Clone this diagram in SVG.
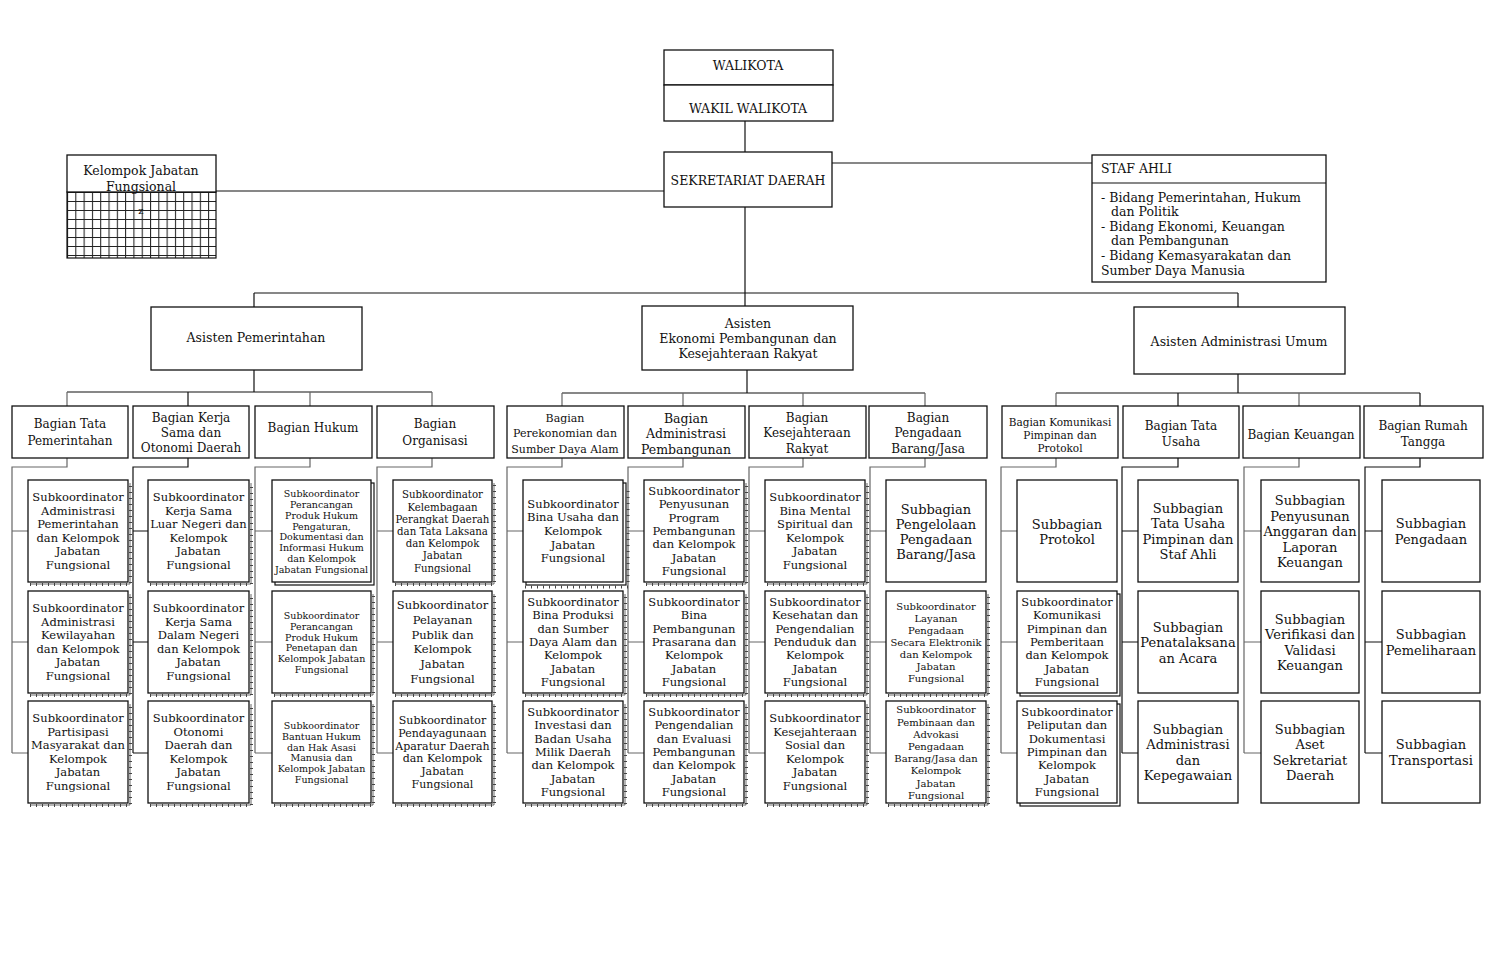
<svg xmlns="http://www.w3.org/2000/svg" width="1495" height="974" viewBox="0 0 1495 974">
<defs>
<pattern id="grid" patternUnits="userSpaceOnUse" x="67" y="192" width="8.3" height="9">
<path d="M0.5 0 V9 M0 0.5 H8.3" stroke="#222" stroke-width="1.1" fill="none"/>
</pattern>
</defs>
<style>
.b{fill:#fff;stroke:#111;stroke-width:1.3}
.sd{fill:#fff;stroke:#111;stroke-width:1.2}
.t{font-family:"DejaVu Serif","Liberation Serif",serif;fill:#111;text-anchor:middle;dominant-baseline:central}
.l{font-family:"DejaVu Serif","Liberation Serif",serif;fill:#111;text-anchor:start;dominant-baseline:central;font-size:12.5px}
.f95{font-size:9.5px}.f10{font-size:10px}.f102{font-size:10.2px}.f105{font-size:10.5px}.f11{font-size:11px}.f115{font-size:11.5px}.f12{font-size:12px}.f125{font-size:12.5px}.f13{font-size:13px}
.ln{stroke:#111;stroke-width:1.2;fill:none}
.lg{stroke:#666;stroke-width:1.2;fill:none}
.tk{stroke:#444;stroke-width:3;stroke-dasharray:1 5;fill:none}
.sh{stroke:#444;stroke-width:0.8;fill:none}
</style>
<rect width="1495" height="974" fill="#fff"/>

<g id="connectors">
<path class="ln" d="M745 121 V152"/>
<path class="ln" d="M832 163 H1092"/>
<path class="ln" d="M216 191 H664"/>
<path class="ln" d="M745 207 V293 M254 293 H1238 M254 293 V307 M745 293 V306 M1238 293 V307"/>
<path class="ln" d="M254 370 V392 M67 392 H432 M1238 374 V393 M1056 393 H1420 M747 370 V393 M562 393 H925"/>
<path class="lg" d="M67 392 V406 M310 392 V406 M432 392 V406 M562 393 V406 M683 393 V406 M803 393 V406 M925 393 V406 M1056 393 V406 M1299 393 V406"/>
<path class="ln" d="M188 392 V406 M1178 393 V406 M1420 393 V406"/>
<path class="lg" d="M67 458 V467 H12 V753 M12 531 H28 M12 642 H28 M12 753 H28"/>
<path class="ln" d="M188 458 V467 H133 V753 M133 531 H148 M133 642 H148 M133 753 H148"/>
<path class="lg" d="M310 458 V467 H255 V753 M255 531 H272 M255 642 H272 M255 753 H272"/>
<path class="lg" d="M432 458 V467 H377 V753 M377 531 H393 M377 642 H393 M377 753 H393"/>
<path class="lg" d="M562 458 V467 H507 V753 M507 531 H523 M507 642 H523 M507 753 H523"/>
<path class="lg" d="M683 458 V467 H628 V753 M628 531 H644 M628 642 H644 M628 753 H644"/>
<path class="lg" d="M803 458 V467 H749 V753 M749 531 H765 M749 642 H765 M749 753 H765"/>
<path class="lg" d="M925 458 V467 H870 V753 M870 531 H886 M870 642 H886 M870 753 H886"/>
<path class="lg" d="M1056 458 V467 H1001 V753 M1001 531 H1017 M1001 642 H1017 M1001 753 H1017"/>
<path class="ln" d="M1178 458 V467 H1122 V753 M1122 531 H1138 M1122 642 H1138 M1122 753 H1138"/>
<path class="lg" d="M1299 458 V467 H1244 V753 M1244 531 H1261 M1244 642 H1261 M1244 753 H1261"/>
<path class="ln" d="M1420 458 V467 H1365 V753 M1365 531 H1382 M1365 642 H1382 M1365 753 H1382"/>
</g>

<g id="walikota">
<rect class="b" x="664" y="50" width="169" height="35"/>
<text class="t f125" x="748" y="65">WALIKOTA</text>
</g>
<g id="wakil">
<rect class="b" x="664" y="85" width="169" height="36"/>
<text class="t f125" x="748" y="108">WAKIL WALIKOTA</text>
</g>
<g id="sekda">
<rect class="b" x="664" y="152" width="168" height="55"/>
<text class="t f125" x="748" y="180">SEKRETARIAT DAERAH</text>
</g>
<g id="kelompok">
<rect x="67" y="192" width="149" height="66" fill="url(#grid)" stroke="#111" stroke-width="1.2"/>
<rect class="b" x="67" y="155" width="149" height="37"/>
<text class="t f125"><tspan x="141" y="170">Kelompok Jabatan</tspan><tspan x="141" y="186">Fungsional</tspan></text>
<text class="t f10" x="141" y="210">z</text>
</g>
<g id="stafahli">
<rect class="b" x="1092" y="155" width="234" height="127"/>
<path class="ln" d="M1092 183 H1326"/>
<text class="l" x="1101" y="168">STAF AHLI</text>
<text class="l"><tspan x="1101" y="197">- Bidang Pemerintahan, Hukum</tspan><tspan x="1111" y="211">dan Politik</tspan><tspan x="1101" y="226">- Bidang Ekonomi, Keuangan</tspan><tspan x="1111" y="240">dan Pembangunan</tspan><tspan x="1101" y="255">- Bidang Kemasyarakatan dan</tspan><tspan x="1101" y="270">Sumber Daya Manusia</tspan></text>
</g>

<g id="asisten-pemerintahan">
<rect class="b" x="151" y="307" width="211" height="63"/>
<text class="t f125" x="256" y="337">Asisten Pemerintahan</text>
</g>
<g id="asisten-ekonomi">
<rect class="b" x="642" y="306" width="211" height="64"/>
<text class="t f125"><tspan x="748" y="323">Asisten</tspan><tspan x="748" y="338">Ekonomi Pembangunan dan</tspan><tspan x="748" y="353">Kesejahteraan Rakyat</tspan></text>
</g>
<g id="asisten-administrasi">
<rect class="b" x="1134" y="307" width="211" height="67"/>
<text class="t f125" x="1239" y="341">Asisten Administrasi Umum</text>
</g>

<g id="bag-tata-pemerintahan"><rect class="b" x="12" y="406" width="116" height="52"/><text class="t f12"><tspan x="70" y="424">Bagian Tata</tspan><tspan x="70" y="441">Pemerintahan</tspan></text></g>
<g id="bag-kerja-sama"><rect class="b" x="133" y="406" width="116" height="52"/><text class="t f12"><tspan x="191" y="418">Bagian Kerja</tspan><tspan x="191" y="433">Sama dan</tspan><tspan x="191" y="448">Otonomi Daerah</tspan></text></g>
<g id="bag-hukum"><rect class="b" x="255" y="406" width="117" height="52"/><text class="t f12" x="313" y="428">Bagian Hukum</text></g>
<g id="bag-organisasi"><rect class="b" x="377" y="406" width="117" height="52"/><text class="t f12"><tspan x="435" y="424">Bagian</tspan><tspan x="435" y="441">Organisasi</tspan></text></g>
<g id="bag-perekonomian"><rect class="b" x="507" y="406" width="117" height="52"/><text class="t f11"><tspan x="565" y="418">Bagian</tspan><tspan x="565" y="433">Perekonomian dan</tspan><tspan x="565" y="449">Sumber Daya Alam</tspan></text></g>
<g id="bag-adm-pembangunan"><rect class="b" x="628" y="406" width="117" height="52"/><text class="t f125"><tspan x="686" y="418">Bagian</tspan><tspan x="686" y="433">Administrasi</tspan><tspan x="686" y="449">Pembangunan</tspan></text></g>
<g id="bag-kesra"><rect class="b" x="749" y="406" width="117" height="52"/><text class="t f12"><tspan x="807" y="418">Bagian</tspan><tspan x="807" y="433">Kesejahteraan</tspan><tspan x="807" y="449">Rakyat</tspan></text></g>
<g id="bag-pengadaan"><rect class="b" x="869" y="406" width="118" height="52"/><text class="t f12"><tspan x="928" y="418">Bagian</tspan><tspan x="928" y="433">Pengadaan</tspan><tspan x="928" y="449">Barang/Jasa</tspan></text></g>
<g id="bag-komunikasi"><rect class="b" x="1002" y="406" width="116" height="52"/><text class="t f105"><tspan x="1060" y="422">Bagian Komunikasi</tspan><tspan x="1060" y="435">Pimpinan dan</tspan><tspan x="1060" y="448">Protokol</tspan></text></g>
<g id="bag-tata-usaha"><rect class="b" x="1123" y="406" width="116" height="52"/><text class="t f12"><tspan x="1181" y="426">Bagian Tata</tspan><tspan x="1181" y="442">Usaha</tspan></text></g>
<g id="bag-keuangan"><rect class="b" x="1243" y="406" width="117" height="52"/><text class="t f12" x="1301" y="435">Bagian Keuangan</text></g>
<g id="bag-rumah-tangga"><rect class="b" x="1364" y="406" width="119" height="52"/><text class="t f12"><tspan x="1423" y="426">Bagian Rumah</tspan><tspan x="1423" y="442">Tangga</tspan></text></g>

<g id="g1a"><path class="tk" d="M30 584.5 H130.5 V483"/><path class="sh" d="M30 584 H130 V483"/><rect class="b" x="28" y="480" width="100" height="102"/><text class="t f115"><tspan x="78" y="497">Subkoordinator</tspan><tspan x="78" y="510.6">Administrasi</tspan><tspan x="78" y="524.2">Pemerintahan</tspan><tspan x="78" y="537.8">dan Kelompok</tspan><tspan x="78" y="551.4">Jabatan</tspan><tspan x="78" y="565">Fungsional</tspan></text></g>
<g id="g1b"><path class="tk" d="M30 695.5 H130.5 V594"/><path class="sh" d="M30 695 H130 V594"/><rect class="b" x="28" y="591" width="100" height="102"/><text class="t f115"><tspan x="78" y="608">Subkoordinator</tspan><tspan x="78" y="621.6">Administrasi</tspan><tspan x="78" y="635.2">Kewilayahan</tspan><tspan x="78" y="648.8">dan Kelompok</tspan><tspan x="78" y="662.4">Jabatan</tspan><tspan x="78" y="676">Fungsional</tspan></text></g>
<g id="g1c"><path class="tk" d="M30 805.5 H130.5 V704"/><path class="sh" d="M30 805 H130 V704"/><rect class="b" x="28" y="701" width="100" height="102"/><text class="t f115"><tspan x="78" y="718">Subkoordinator</tspan><tspan x="78" y="731.6">Partisipasi</tspan><tspan x="78" y="745.2">Masyarakat dan</tspan><tspan x="78" y="758.8">Kelompok</tspan><tspan x="78" y="772.4">Jabatan</tspan><tspan x="78" y="786">Fungsional</tspan></text></g>

<g id="g2a"><path class="tk" d="M150 584.5 H251.5 V483"/><path class="sh" d="M150 584 H251 V483"/><rect class="b" x="148" y="480" width="101" height="102"/><text class="t f115"><tspan x="198.5" y="497">Subkoordinator</tspan><tspan x="198.5" y="510.6">Kerja Sama</tspan><tspan x="198.5" y="524.2">Luar Negeri dan</tspan><tspan x="198.5" y="537.8">Kelompok</tspan><tspan x="198.5" y="551.4">Jabatan</tspan><tspan x="198.5" y="565">Fungsional</tspan></text></g>
<g id="g2b"><path class="tk" d="M150 695.5 H251.5 V594"/><path class="sh" d="M150 695 H251 V594"/><rect class="b" x="148" y="591" width="101" height="102"/><text class="t f115"><tspan x="198.5" y="608">Subkoordinator</tspan><tspan x="198.5" y="621.6">Kerja Sama</tspan><tspan x="198.5" y="635.2">Dalam Negeri</tspan><tspan x="198.5" y="648.8">dan Kelompok</tspan><tspan x="198.5" y="662.4">Jabatan</tspan><tspan x="198.5" y="676">Fungsional</tspan></text></g>
<g id="g2c"><path class="tk" d="M150 805.5 H251.5 V704"/><path class="sh" d="M150 805 H251 V704"/><rect class="b" x="148" y="701" width="101" height="102"/><text class="t f115"><tspan x="198.5" y="718">Subkoordinator</tspan><tspan x="198.5" y="731.6">Otonomi</tspan><tspan x="198.5" y="745.2">Daerah dan</tspan><tspan x="198.5" y="758.8">Kelompok</tspan><tspan x="198.5" y="772.4">Jabatan</tspan><tspan x="198.5" y="786">Fungsional</tspan></text></g>

<g id="g3a"><rect class="sd" x="275" y="483" width="99" height="102"/><rect class="b" x="272" y="480" width="99" height="102"/><text class="t f95"><tspan x="321.5" y="493.2">Subkoordinator</tspan><tspan x="321.5" y="504">Perancangan</tspan><tspan x="321.5" y="514.8">Produk Hukum</tspan><tspan x="321.5" y="525.6">Pengaturan,</tspan><tspan x="321.5" y="536.4">Dokumentasi dan</tspan><tspan x="321.5" y="547.2">Informasi Hukum</tspan><tspan x="321.5" y="558">dan Kelompok</tspan><tspan x="321.5" y="568.8">Jabatan Fungsional</tspan></text></g>
<g id="g3b"><path class="tk" d="M274 695.5 H373.5 V594"/><path class="sh" d="M274 695 H373 V594"/><rect class="b" x="272" y="591" width="99" height="102"/><text class="t f95"><tspan x="321.5" y="615">Subkoordinator</tspan><tspan x="321.5" y="625.8">Perancangan</tspan><tspan x="321.5" y="636.6">Produk Hukum</tspan><tspan x="321.5" y="647.4">Penetapan dan</tspan><tspan x="321.5" y="658.2">Kelompok Jabatan</tspan><tspan x="321.5" y="669">Fungsional</tspan></text></g>
<g id="g3c"><path class="tk" d="M274 805.5 H373.5 V704"/><path class="sh" d="M274 805 H373 V704"/><rect class="b" x="272" y="701" width="99" height="102"/><text class="t f95"><tspan x="321.5" y="725">Subkoordinator</tspan><tspan x="321.5" y="735.8">Bantuan Hukum</tspan><tspan x="321.5" y="746.6">dan Hak Asasi</tspan><tspan x="321.5" y="757.4">Manusia dan</tspan><tspan x="321.5" y="768.2">Kelompok Jabatan</tspan><tspan x="321.5" y="779">Fungsional</tspan></text></g>

<g id="g4a"><path class="tk" d="M395 584.5 H494.5 V483"/><path class="sh" d="M395 584 H494 V483"/><rect class="b" x="393" y="480" width="99" height="102"/><text class="t f102"><tspan x="442.5" y="494.4">Subkoordinator</tspan><tspan x="442.5" y="506.6">Kelembagaan</tspan><tspan x="442.5" y="518.8">Perangkat Daerah</tspan><tspan x="442.5" y="531">dan Tata Laksana</tspan><tspan x="442.5" y="543.2">dan Kelompok</tspan><tspan x="442.5" y="555.4">Jabatan</tspan><tspan x="442.5" y="567.6">Fungsional</tspan></text></g>
<g id="g4b"><path class="tk" d="M395 695.5 H494.5 V594"/><path class="sh" d="M395 695 H494 V594"/><rect class="b" x="393" y="591" width="99" height="102"/><text class="t f115"><tspan x="442.5" y="605">Subkoordinator</tspan><tspan x="442.5" y="619.8">Pelayanan</tspan><tspan x="442.5" y="634.6">Publik dan</tspan><tspan x="442.5" y="649.4">Kelompok</tspan><tspan x="442.5" y="664.2">Jabatan</tspan><tspan x="442.5" y="679">Fungsional</tspan></text></g>
<g id="g4c"><path class="tk" d="M395 805.5 H494.5 V704"/><path class="sh" d="M395 805 H494 V704"/><rect class="b" x="393" y="701" width="99" height="102"/><text class="t f11"><tspan x="442.5" y="720">Subkoordinator</tspan><tspan x="442.5" y="732.8">Pendayagunaan</tspan><tspan x="442.5" y="745.6">Aparatur Daerah</tspan><tspan x="442.5" y="758.4">dan Kelompok</tspan><tspan x="442.5" y="771.2">Jabatan</tspan><tspan x="442.5" y="784">Fungsional</tspan></text></g>

<g id="g5a"><rect class="sd" x="526" y="483" width="100" height="102"/><path class="tk" d="M525 587 H628 V486"/><rect class="b" x="523" y="480" width="100" height="102"/><text class="t f115"><tspan x="573" y="503.8">Subkoordinator</tspan><tspan x="573" y="517.4">Bina Usaha dan</tspan><tspan x="573" y="531">Kelompok</tspan><tspan x="573" y="544.6">Jabatan</tspan><tspan x="573" y="558.2">Fungsional</tspan></text></g>
<g id="g5b"><path class="tk" d="M525 695.5 H625.5 V594"/><path class="sh" d="M525 695 H625 V594"/><rect class="b" x="523" y="591" width="100" height="102"/><text class="t f115"><tspan x="573" y="601.8">Subkoordinator</tspan><tspan x="573" y="615.2">Bina Produksi</tspan><tspan x="573" y="628.6">dan Sumber</tspan><tspan x="573" y="642">Daya Alam dan</tspan><tspan x="573" y="655.4">Kelompok</tspan><tspan x="573" y="668.8">Jabatan</tspan><tspan x="573" y="682.2">Fungsional</tspan></text></g>
<g id="g5c"><path class="tk" d="M525 805.5 H625.5 V704"/><path class="sh" d="M525 805 H625 V704"/><rect class="b" x="523" y="701" width="100" height="102"/><text class="t f115"><tspan x="573" y="711.8">Subkoordinator</tspan><tspan x="573" y="725.2">Investasi dan</tspan><tspan x="573" y="738.6">Badan Usaha</tspan><tspan x="573" y="752">Milik Daerah</tspan><tspan x="573" y="765.4">dan Kelompok</tspan><tspan x="573" y="778.8">Jabatan</tspan><tspan x="573" y="792.2">Fungsional</tspan></text></g>

<g id="g6a"><path class="tk" d="M646 584.5 H746.5 V483"/><path class="sh" d="M646 584 H746 V483"/><rect class="b" x="644" y="480" width="100" height="102"/><text class="t f115"><tspan x="694" y="490.8">Subkoordinator</tspan><tspan x="694" y="504.2">Penyusunan</tspan><tspan x="694" y="517.6">Program</tspan><tspan x="694" y="531">Pembangunan</tspan><tspan x="694" y="544.4">dan Kelompok</tspan><tspan x="694" y="557.8">Jabatan</tspan><tspan x="694" y="571.2">Fungsional</tspan></text></g>
<g id="g6b"><path class="tk" d="M646 695.5 H746.5 V594"/><path class="sh" d="M646 695 H746 V594"/><rect class="b" x="644" y="591" width="100" height="102"/><text class="t f115"><tspan x="694" y="601.8">Subkoordinator</tspan><tspan x="694" y="615.2">Bina</tspan><tspan x="694" y="628.6">Pembangunan</tspan><tspan x="694" y="642">Prasarana dan</tspan><tspan x="694" y="655.4">Kelompok</tspan><tspan x="694" y="668.8">Jabatan</tspan><tspan x="694" y="682.2">Fungsional</tspan></text></g>
<g id="g6c"><path class="tk" d="M646 805.5 H746.5 V704"/><path class="sh" d="M646 805 H746 V704"/><rect class="b" x="644" y="701" width="100" height="102"/><text class="t f115"><tspan x="694" y="711.8">Subkoordinator</tspan><tspan x="694" y="725.2">Pengendalian</tspan><tspan x="694" y="738.6">dan Evaluasi</tspan><tspan x="694" y="752">Pembangunan</tspan><tspan x="694" y="765.4">dan Kelompok</tspan><tspan x="694" y="778.8">Jabatan</tspan><tspan x="694" y="792.2">Fungsional</tspan></text></g>

<g id="g7a"><path class="tk" d="M767 584.5 H867.5 V483"/><path class="sh" d="M767 584 H867 V483"/><rect class="b" x="765" y="480" width="100" height="102"/><text class="t f115"><tspan x="815" y="497">Subkoordinator</tspan><tspan x="815" y="510.6">Bina Mental</tspan><tspan x="815" y="524.2">Spiritual dan</tspan><tspan x="815" y="537.8">Kelompok</tspan><tspan x="815" y="551.4">Jabatan</tspan><tspan x="815" y="565">Fungsional</tspan></text></g>
<g id="g7b"><path class="tk" d="M767 695.5 H867.5 V594"/><path class="sh" d="M767 695 H867 V594"/><rect class="b" x="765" y="591" width="100" height="102"/><text class="t f115"><tspan x="815" y="601.8">Subkoordinator</tspan><tspan x="815" y="615.2">Kesehatan dan</tspan><tspan x="815" y="628.6">Pengendalian</tspan><tspan x="815" y="642">Penduduk dan</tspan><tspan x="815" y="655.4">Kelompok</tspan><tspan x="815" y="668.8">Jabatan</tspan><tspan x="815" y="682.2">Fungsional</tspan></text></g>
<g id="g7c"><path class="tk" d="M767 805.5 H867.5 V704"/><path class="sh" d="M767 805 H867 V704"/><rect class="b" x="765" y="701" width="100" height="102"/><text class="t f115"><tspan x="815" y="718">Subkoordinator</tspan><tspan x="815" y="731.6">Kesejahteraan</tspan><tspan x="815" y="745.2">Sosial dan</tspan><tspan x="815" y="758.8">Kelompok</tspan><tspan x="815" y="772.4">Jabatan</tspan><tspan x="815" y="786">Fungsional</tspan></text></g>

<g id="g8a"><rect class="b" x="886" y="480" width="100" height="102"/><text class="t f13"><tspan x="936" y="508.5">Subbagian</tspan><tspan x="936" y="523.5">Pengelolaan</tspan><tspan x="936" y="538.5">Pengadaan</tspan><tspan x="936" y="553.5">Barang/Jasa</tspan></text></g>
<g id="g8b"><path class="tk" d="M888 695.5 H988.5 V594"/><path class="sh" d="M888 695 H988 V594"/><rect class="b" x="886" y="591" width="100" height="102"/><text class="t f10"><tspan x="936" y="606">Subkoordinator</tspan><tspan x="936" y="618">Layanan</tspan><tspan x="936" y="630">Pengadaan</tspan><tspan x="936" y="642">Secara Elektronik</tspan><tspan x="936" y="654">dan Kelompok</tspan><tspan x="936" y="666">Jabatan</tspan><tspan x="936" y="678">Fungsional</tspan></text></g>
<g id="g8c"><path class="tk" d="M888 805.5 H988.5 V704"/><path class="sh" d="M888 805 H988 V704"/><rect class="b" x="886" y="701" width="100" height="102"/><text class="t f10"><tspan x="936" y="709.3">Subkoordinator</tspan><tspan x="936" y="721.5">Pembinaan dan</tspan><tspan x="936" y="733.7">Advokasi</tspan><tspan x="936" y="745.9">Pengadaan</tspan><tspan x="936" y="758.1">Barang/Jasa dan</tspan><tspan x="936" y="770.3">Kelompok</tspan><tspan x="936" y="782.5">Jabatan</tspan><tspan x="936" y="794.7">Fungsional</tspan></text></g>

<g id="g9a"><rect class="b" x="1017" y="480" width="100" height="102"/><text class="t f13"><tspan x="1067" y="523.5">Subbagian</tspan><tspan x="1067" y="538.5">Protokol</tspan></text></g>
<g id="g9b"><rect class="sd" x="1020" y="594" width="100" height="102"/><rect class="b" x="1017" y="591" width="100" height="102"/><text class="t f115"><tspan x="1067" y="601.8">Subkoordinator</tspan><tspan x="1067" y="615.2">Komunikasi</tspan><tspan x="1067" y="628.6">Pimpinan dan</tspan><tspan x="1067" y="642">Pemberitaan</tspan><tspan x="1067" y="655.4">dan Kelompok</tspan><tspan x="1067" y="668.8">Jabatan</tspan><tspan x="1067" y="682.2">Fungsional</tspan></text></g>
<g id="g9c"><rect class="sd" x="1020" y="704" width="100" height="102"/><rect class="b" x="1017" y="701" width="100" height="102"/><text class="t f115"><tspan x="1067" y="711.8">Subkoordinator</tspan><tspan x="1067" y="725.2">Peliputan dan</tspan><tspan x="1067" y="738.6">Dokumentasi</tspan><tspan x="1067" y="752">Pimpinan dan</tspan><tspan x="1067" y="765.4">Kelompok</tspan><tspan x="1067" y="778.8">Jabatan</tspan><tspan x="1067" y="792.2">Fungsional</tspan></text></g>

<g id="g10a"><rect class="b" x="1138" y="480" width="100" height="102"/><text class="t f13"><tspan x="1188" y="507.75">Subbagian</tspan><tspan x="1188" y="523.25">Tata Usaha</tspan><tspan x="1188" y="538.75">Pimpinan dan</tspan><tspan x="1188" y="554.25">Staf Ahli</tspan></text></g>
<g id="g10b"><rect class="b" x="1138" y="591" width="100" height="102"/><text class="t f13"><tspan x="1188" y="626.5">Subbagian</tspan><tspan x="1188" y="642">Penatalaksana</tspan><tspan x="1188" y="657.5">an Acara</tspan></text></g>
<g id="g10c"><rect class="b" x="1138" y="701" width="100" height="102"/><text class="t f13"><tspan x="1188" y="728.75">Subbagian</tspan><tspan x="1188" y="744.25">Administrasi</tspan><tspan x="1188" y="759.75">dan</tspan><tspan x="1188" y="775.25">Kepegawaian</tspan></text></g>

<g id="g11a"><rect class="b" x="1261" y="480" width="98" height="102"/><text class="t f13"><tspan x="1310" y="500">Subbagian</tspan><tspan x="1310" y="515.5">Penyusunan</tspan><tspan x="1310" y="531">Anggaran dan</tspan><tspan x="1310" y="546.5">Laporan</tspan><tspan x="1310" y="562">Keuangan</tspan></text></g>
<g id="g11b"><rect class="b" x="1261" y="591" width="98" height="102"/><text class="t f13"><tspan x="1310" y="618.75">Subbagian</tspan><tspan x="1310" y="634.25">Verifikasi dan</tspan><tspan x="1310" y="649.75">Validasi</tspan><tspan x="1310" y="665.25">Keuangan</tspan></text></g>
<g id="g11c"><rect class="b" x="1261" y="701" width="98" height="102"/><text class="t f13"><tspan x="1310" y="728.75">Subbagian</tspan><tspan x="1310" y="744.25">Aset</tspan><tspan x="1310" y="759.75">Sekretariat</tspan><tspan x="1310" y="775.25">Daerah</tspan></text></g>

<g id="g12a"><rect class="b" x="1382" y="480" width="98" height="102"/><text class="t f13"><tspan x="1431" y="523.25">Subbagian</tspan><tspan x="1431" y="538.75">Pengadaan</tspan></text></g>
<g id="g12b"><rect class="b" x="1382" y="591" width="98" height="102"/><text class="t f13"><tspan x="1431" y="634.25">Subbagian</tspan><tspan x="1431" y="649.75">Pemeliharaan</tspan></text></g>
<g id="g12c"><rect class="b" x="1382" y="701" width="98" height="102"/><text class="t f13"><tspan x="1431" y="744.25">Subbagian</tspan><tspan x="1431" y="759.75">Transportasi</tspan></text></g>
</svg>
